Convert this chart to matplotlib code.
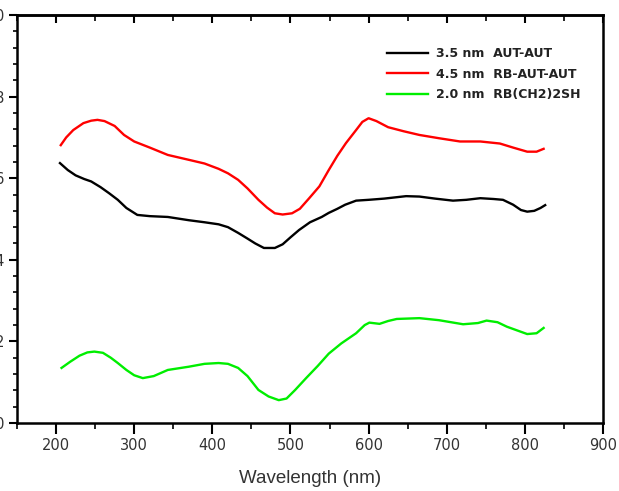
import matplotlib
matplotlib.use("Agg")
import matplotlib.pyplot as plt
from matplotlib.ticker import MultipleLocator

# spectra
wl_aut = [205, 215, 225, 236, 245, 257, 268, 279, 290, 304, 320, 343, 370, 390, 408,
          420, 433, 445, 455, 466, 480, 490, 500, 511, 525, 540, 549, 560, 570, 584,
          600, 620, 648, 665, 685, 708, 725, 743, 760, 772, 785, 795, 803, 812, 820, 826]
abs_aut = [0.637, 0.620, 0.607, 0.598, 0.592, 0.578, 0.563, 0.547, 0.527, 0.510, 0.507,
           0.505, 0.497, 0.492, 0.487, 0.480, 0.466, 0.452, 0.440, 0.429, 0.429, 0.438,
           0.455, 0.473, 0.492, 0.505, 0.515, 0.525, 0.535, 0.545, 0.547, 0.550, 0.556,
           0.555, 0.550, 0.545, 0.547, 0.551, 0.549, 0.547, 0.535, 0.522, 0.518, 0.520,
           0.527, 0.534]

wl_rb = [206, 213, 222, 235, 245, 253, 262, 275, 287, 300, 320, 343, 370, 390, 408,
         420, 433, 445, 459, 470, 480, 490, 502, 512, 524, 537, 549, 560, 571, 584,
         592, 600, 610, 625, 645, 665, 690, 717, 743, 768, 785, 803, 815, 824]
abs_rb = [0.681, 0.700, 0.718, 0.735, 0.741, 0.743, 0.740, 0.728, 0.706, 0.690, 0.675,
          0.657, 0.645, 0.636, 0.623, 0.612, 0.596, 0.575, 0.547, 0.528, 0.514, 0.511,
          0.514, 0.525, 0.551, 0.580, 0.620, 0.655, 0.686, 0.718, 0.738, 0.747, 0.740,
          0.725, 0.715, 0.706, 0.698, 0.690, 0.690, 0.685, 0.675, 0.665, 0.665, 0.672]

wl_sh = [207, 218, 230, 240, 249, 260, 270, 279, 290, 300, 311, 325, 343, 370, 390,
         408, 420, 433, 445, 459, 472, 485, 495, 506, 520, 535, 549, 565, 584, 595,
         601, 614, 625, 636, 665, 690, 721, 740, 751, 765, 777, 790, 803, 815, 824]
abs_sh = [0.135, 0.150, 0.165, 0.173, 0.175, 0.172, 0.160, 0.147, 0.130, 0.117, 0.110,
          0.115, 0.130, 0.138, 0.145, 0.147, 0.145, 0.135, 0.115, 0.081, 0.065, 0.056,
          0.060, 0.081, 0.110, 0.140, 0.170, 0.195, 0.220, 0.240, 0.246, 0.243, 0.250,
          0.255, 0.257, 0.252, 0.242, 0.245, 0.251, 0.247, 0.236, 0.227, 0.218, 0.220,
          0.233]

labels = ["3.5 nm  AUT-AUT", "4.5 nm  RB-AUT-AUT", "2.0 nm  RB(CH2)2SH"]

plt.rcParams['font.family'] = ['DejaVu Sans']

fig = plt.figure(figsize=(6.19, 4.91), dpi=100)
ax = fig.add_axes([17/619, 68/491, 586/619, 408/491])

ax.plot(wl_aut, abs_aut, color='black', lw=1.7, label=labels[0])
ax.plot(wl_rb, abs_rb, color='#ff0000', lw=1.7, label=labels[1])
ax.plot(wl_sh, abs_sh, color='#00ee00', lw=1.7, label=labels[2])

ax.set_xlim(150, 900)
ax.set_ylim(0, 1.0)
ax.set_xticks([200, 300, 400, 500, 600, 700, 800, 900])
ax.xaxis.set_minor_locator(MultipleLocator(50))
ax.set_yticks([0, 0.2, 0.4, 0.6, 0.8, 1.0])
ax.set_yticklabels(["0.0", "0.2", "0.4", "0.6", "0.8", "1.0"])
ax.yaxis.set_minor_locator(MultipleLocator(0.04))

ax.tick_params(axis='x', which='major', direction='out', length=8, width=1.5,
               labelsize=10.5, labelcolor='#333333', pad=3, top=False)
ax.tick_params(axis='x', which='minor', direction='out', length=4, width=1.2, top=False)
ax.tick_params(axis='y', which='major', direction='out', length=6, width=1.5,
               labelsize=10.5, labelcolor='#333333', pad=3, right=False)
ax.tick_params(axis='y', which='minor', direction='out', length=3, width=1.2, right=False)

# inward ticks along the top edge
top = ax.secondary_xaxis('top')
top.xaxis.set_major_locator(MultipleLocator(100))
top.xaxis.set_minor_locator(MultipleLocator(50))
top.tick_params(which='major', direction='in', length=6, width=1.5, labeltop=False)
top.tick_params(which='minor', direction='in', length=4, width=1.2)
top.spines['top'].set_linewidth(1.8)

for s in ax.spines.values():
    s.set_linewidth(1.8)

ax.set_xlabel("Wavelength (nm)", fontsize=13.5, color='#333333', labelpad=12,
              family='Liberation Sans')

leg = ax.legend(loc='upper left', frameon=False, fontsize=9,
                handlelength=3.3, handletextpad=0.6, labelspacing=0.6,
                borderpad=0, borderaxespad=0)
leg.set_bbox_to_anchor((387/619, 1 - 47/491), transform=fig.transFigure)
for t in leg.get_texts():
    t.set_fontweight('bold')
    t.set_color('#222222')

fig.savefig("out.png", dpi=100)
